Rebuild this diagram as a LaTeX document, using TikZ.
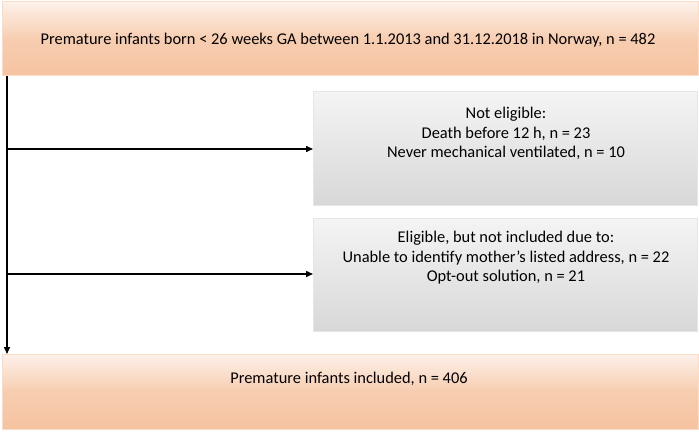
\documentclass[tikz,border=0pt]{standalone}
\usepackage{fontspec}
\setmainfont{Carlito}
\usetikzlibrary{arrows.meta}
\definecolor{orangetop}{HTML}{FDF1EA}
\definecolor{orangemid}{HTML}{F7CDB0}
\definecolor{orangebot}{HTML}{F5C3A0}
\definecolor{orangeedge}{HTML}{FBDCC6}
\definecolor{greytop}{HTML}{F4F4F4}
\definecolor{greybot}{HTML}{D8D8D8}
\definecolor{greyedge}{HTML}{E6E6E6}
\tikzset{
  orangebox/.style={draw=orangeedge, line width=1pt, top color=orangetop, bottom color=orangebot, middle color=orangemid, rectangle, inner sep=0pt},
  greybox/.style={draw=greyedge, line width=1pt, top color=greytop, bottom color=greybot, rectangle, inner sep=0pt},
  txt/.style={font=\fontsize{16.4}{19.6}\selectfont, align=center, inner sep=0pt},
  flow/.style={line width=1.5pt, -{Triangle[length=7pt,width=6pt]}}
}
\begin{document}
\begin{tikzpicture}[x=1pt,y=-1pt]
\useasboundingbox (0,0) rectangle (699,433);
% top box
\path[orangebox] (2,2) rectangle (698,76);
\node[txt] (top) at (348,40) {Premature infants born < 26 weeks GA between 1.1.2013 and 31.12.2018 in Norway, n = 482};
% bottom box
\path[orangebox] (2,354) rectangle (698,429);
\node[txt] (bot) at (349,379) {Premature infants included, n = 406};
% grey boxes
\path[greybox] (313,92) rectangle (697,205);
\node[txt, anchor=north] (ne) at (506,107) {Not eligible:\\Death before 12 h, n = 23\\Never mechanical ventilated, n = 10};
\path[greybox] (313,218) rectangle (697,331);
\node[txt, anchor=north] (el) at (506,231) {Eligible, but not included due to:\\Unable to identify mother’s listed address, n = 22\\Opt-out solution, n = 21};
% connectors
\coordinate (s) at (7,76);
\coordinate (e) at (7,354);
\coordinate (j1) at (7,149);
\coordinate (j2) at (7,274);
\coordinate (b1) at (313,149);
\coordinate (b2) at (313,274);
\draw[flow] (s) -- (e);
\draw[flow] (j1) -- (b1);
\draw[flow] (j2) -- (b2);
\end{tikzpicture}
\end{document}
